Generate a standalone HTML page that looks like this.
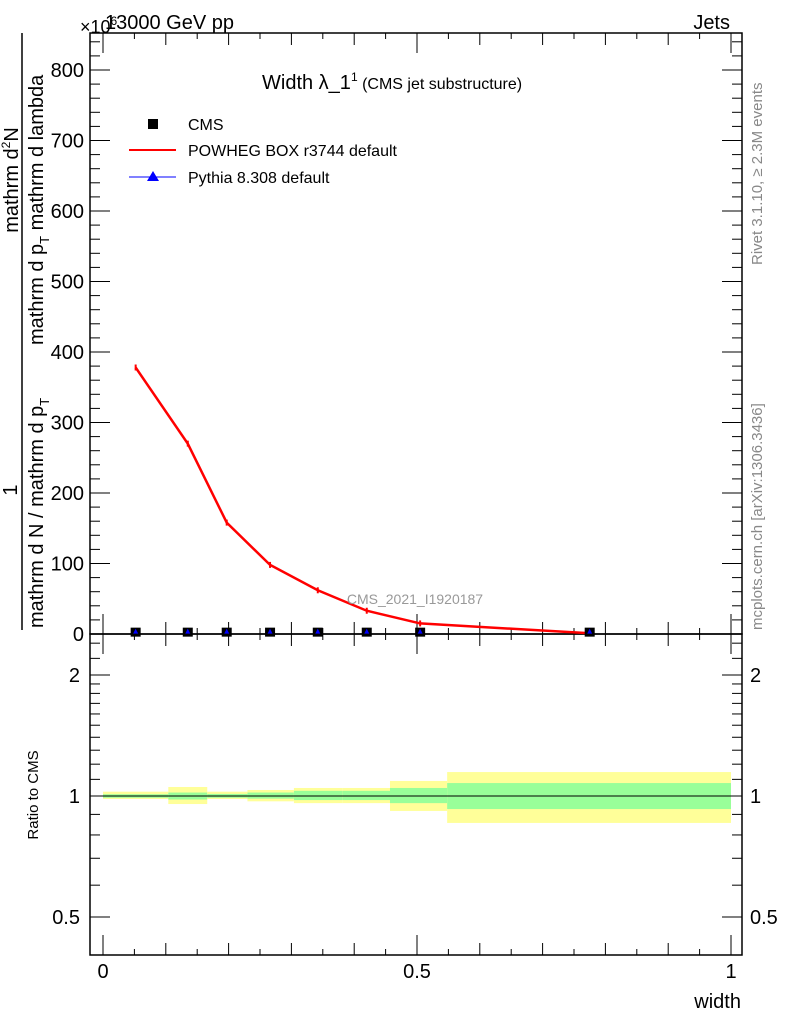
<!DOCTYPE html>
<html><head><meta charset="utf-8"><style>
body{margin:0;background:#fff;}
svg{display:block;font-family:"Liberation Sans",sans-serif;}
</style></head><body>
<svg id="chart" width="786" height="1024" xmlns="http://www.w3.org/2000/svg">
<g id="bands"></g>
<g id="axes"></g>
<g id="series"></g>
<text x="105" y="29" font-size="20">13000 GeV pp</text>
<text x="80" y="33" font-size="18">×10<tspan font-size="12" dy="-8">6</tspan></text>
<text x="730" y="29" font-size="20" text-anchor="end">Jets</text>
<text x="262" y="89" font-size="20">Width λ_1<tspan font-size="12" dy="-8">1</tspan><tspan font-size="16" dy="8"> (CMS jet substructure)</tspan></text>
<g>
<rect x="148" y="119" width="10" height="10" fill="#000"/>
<text x="188" y="130" font-size="16">CMS</text>
<line x1="129" y1="150" x2="176" y2="150" stroke="red" stroke-width="2"/>
<text x="188" y="156" font-size="16">POWHEG BOX r3744 default</text>
<line x1="129" y1="177" x2="176" y2="177" stroke="blue" stroke-width="1"/>
<polygon points="153,171 147,181 159,181" fill="blue"/>
<text x="188" y="183" font-size="16">Pythia 8.308 default</text>
</g>
<text x="415" y="604" font-size="14" fill="#999" text-anchor="middle">CMS_2021_I1920187</text>
<g>
<line x1="22" y1="630" x2="22" y2="33" stroke="#000" stroke-width="1.5"/>
<text transform="translate(17,490) rotate(-90)" font-size="20" text-anchor="middle">1</text>
<text transform="translate(18,180) rotate(-90)" font-size="20" text-anchor="middle">mathrm d<tspan font-size="12" dy="-8">2</tspan><tspan dy="8">N</tspan></text>
<text transform="translate(43,628) rotate(-90)" font-size="20">mathrm d N / mathrm d p<tspan font-size="13" dy="6">T</tspan></text>
<text transform="translate(43,345) rotate(-90)" font-size="20">mathrm d p<tspan font-size="13" dy="6">T</tspan><tspan dy="-6"> mathrm d lambda</tspan></text>
</g>
<text transform="translate(38,795) rotate(-90)" font-size="15" text-anchor="middle">Ratio to CMS</text>
<text x="741" y="1008" font-size="20" text-anchor="end">width</text>
<text transform="translate(762,265) rotate(-90)" font-size="15" fill="#888">Rivet 3.1.10, ≥ 2.3M events</text>
<text transform="translate(762,630) rotate(-90)" font-size="15" fill="#888">mcplots.cern.ch [arXiv:1306.3436]</text>
</svg>
<script>
const binEdges=[0,0.104,0.166,0.23,0.304,0.381,0.457,0.548,1.0];
const binCenters=[0.052,0.135,0.197,0.266,0.342,0.420,0.505,0.775];
const cmsValues=[0.5,0.5,0.5,0.5,0.5,0.5,0.5,0.5];
const powhegValues=[378,270,158,98,62,33,15,1];
const yellowUp=[1.025,1.053,1.025,1.035,1.047,1.047,1.09,1.147];
const yellowDown=[0.983,0.955,0.983,0.97,0.96,0.96,0.918,0.857];
const greenUp=[1.01,1.02,1.012,1.02,1.03,1.03,1.047,1.077];
const greenDown=[0.99,0.98,0.99,0.985,0.977,0.977,0.96,0.928];
const yTicks=[0,100,200,300,400,500,600,700,800];
const ratioTicks=[0.5,1,2];
const xTicks=[0,0.5,1];

const NS="http://www.w3.org/2000/svg";
const L=90,R=742,T=33,MB=634,RB=955;
const X=v=>103+v*628;
const Y=v=>634-v*0.705;
const RY=r=>796-121*Math.log2(r);
function mk(parent,tag,attrs){const e=document.createElementNS(NS,tag);for(const k in attrs)e.setAttribute(k,attrs[k]);document.getElementById(parent).appendChild(e);return e;}

// bands
for(let i=0;i<binCenters.length;i++){
  let e=mk('bands','rect',{x:X(binEdges[i]),y:RY(yellowUp[i]),width:X(binEdges[i+1])-X(binEdges[i]),height:RY(yellowDown[i])-RY(yellowUp[i]),fill:'#ffff99'});
  
  
  e=mk('bands','rect',{x:X(binEdges[i]),y:RY(greenUp[i]),width:X(binEdges[i+1])-X(binEdges[i]),height:RY(greenDown[i])-RY(greenUp[i]),fill:'#99ff99'});
  
  
}
let rl=mk('bands','line',{x1:X(0),x2:X(1),y1:RY(1),y2:RY(1),stroke:'#000','stroke-width':1});



// frames
let f=mk('axes','rect',{x:L,y:T,width:R-L,height:MB-T,fill:'none',stroke:'#000','stroke-width':1.5});


f=mk('axes','rect',{x:L,y:MB,width:R-L,height:RB-MB,fill:'none',stroke:'#000','stroke-width':1.5});



function tick(x1,y1,x2,y2){mk('axes','line',{x1,y1,x2,y2,stroke:'#000','stroke-width':1});}
// main y ticks
for(let v=0;v<=840;v+=20){const y=Y(v);const len=v%100===0?20:10;tick(L,y,L+len,y);tick(R,y,R-len,y);}
yTicks.forEach(v=>{const t=mk('axes','text',{x:84,y:Y(v)+7,'font-size':20,'text-anchor':'end'});t.textContent=v;

});
// x ticks
for(let k=0;k<=20;k++){const v=k*0.05,x=X(v);const len=k%10===0?20:(k%2===0?12:6);
 tick(x,MB,x,MB-len);tick(x,RB,x,RB-len);tick(x,T,x,T+len);tick(x,MB,x,MB+len);}
xTicks.forEach(v=>{const t=mk('axes','text',{x:X(v),y:978,'font-size':20,'text-anchor':'middle'});t.textContent=v;

});
// ratio ticks
[0.5,0.6,0.7,0.8,0.9,1,1.1,1.2,1.3,1.4,1.5,1.6,1.7,1.8,1.9,2,2.2,2.4].forEach(r=>{const y=RY(r);const len=ratioTicks.includes(r)?20:10;tick(L,y,L+len,y);tick(R,y,R-len,y);});
ratioTicks.forEach(r=>{let t=mk('axes','text',{x:80,y:RY(r)+7,'font-size':20,'text-anchor':'end'});t.textContent=r;


t=mk('axes','text',{x:750,y:RY(r)+7,'font-size':20});t.textContent=r;

});

// powheg line
const pl=mk('series','polyline',{points:binCenters.map((c,i)=>X(c)+','+Y(powhegValues[i])).join(' '),fill:'none',stroke:'red','stroke-width':2.5});


binCenters.forEach((c,i)=>{const e=mk('series','line',{x1:X(c),x2:X(c),y1:Y(powhegValues[i])-3,y2:Y(powhegValues[i])+3,stroke:'red','stroke-width':2});

});
// cms points
binCenters.forEach((c,i)=>{const e=mk('series','rect',{x:X(c)-5,y:Y(cmsValues[i])-6,width:10,height:9,fill:'#000'});


const p=mk('series','polygon',{points:`${X(c)},${Y(cmsValues[i])-5} ${X(c)-2.5},${Y(cmsValues[i])} ${X(c)+2.5},${Y(cmsValues[i])}`,fill:'blue'});

});
</script>
</body></html>
